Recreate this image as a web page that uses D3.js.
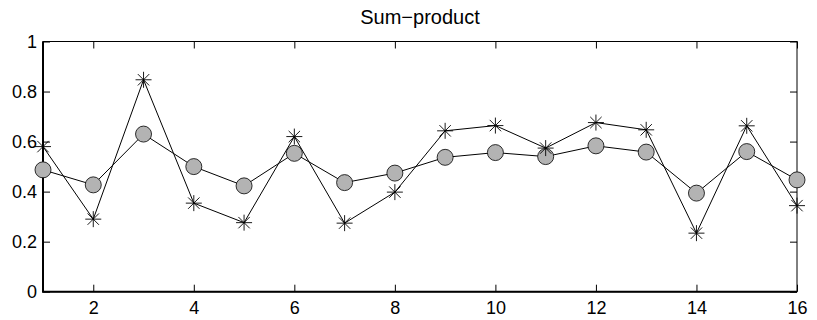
<!DOCTYPE html>
<html lang="en">
<head>
  <meta charset="UTF-8">
  <title>Sum-product</title>
  <script src="https://d3js.org/d3.v7.min.js"></script>
  <style>
    body { margin: 0; background: #fff; }
    svg { display: block; font-family: "Liberation Sans", Arial, sans-serif; }
    .tick text { font-size: 18px; fill: #000; }
    .title { font-size: 20px; text-anchor: middle; }
  </style>
</head>
<body>
  <svg width="817" height="320"></svg>
  <script>
    // data
    const nodes = d3.range(1, 17);
    const stars = [0.58, 0.29, 0.847, 0.354, 0.276, 0.62, 0.274, 0.398, 0.643, 0.664, 0.574, 0.676, 0.647, 0.234, 0.663, 0.344];
    const circles = [0.487, 0.427, 0.63, 0.5, 0.423, 0.553, 0.436, 0.474, 0.537, 0.556, 0.54, 0.583, 0.558, 0.394, 0.56, 0.447];
    const xTicks = [2, 4, 6, 8, 10, 12, 14, 16];
    const yTicks = [0, 0.2, 0.4, 0.6, 0.8, 1];

    const svg = d3.select("svg");
    const mLeft = 43, mRight = 797, mTop = 41.5, mBottom = 291.7;

    const x = d3.scaleLinear().domain([1, 16]).range([mLeft, mRight]);
    const y = d3.scaleLinear().domain([0, 1]).range([mBottom, mTop]);

    // axes, ticks pointing inwards like matlab
    svg.append("g")
      .attr("transform", `translate(0,${mBottom})`)
      .call(d3.axisBottom(x).tickValues(xTicks).tickSizeInner(-7).tickSizeOuter(0).tickPadding(10))
      .call(g => g.select(".domain").remove());
    svg.append("g")
      .attr("transform", `translate(0,${mTop})`)
      .call(d3.axisTop(x).tickValues(xTicks).tickSizeInner(-7).tickSizeOuter(0).tickFormat(""))
      .call(g => g.select(".domain").remove());
    svg.append("g")
      .attr("transform", `translate(${mLeft},0)`)
      .call(d3.axisLeft(y).tickValues(yTicks).tickSizeInner(-7).tickSizeOuter(0).tickPadding(6).tickFormat(d3.format("~g")))
      .call(g => g.select(".domain").remove());
    svg.append("g")
      .attr("transform", `translate(${mRight},0)`)
      .call(d3.axisRight(y).tickValues(yTicks).tickSizeInner(-7).tickSizeOuter(0).tickFormat(""))
      .call(g => g.select(".domain").remove());
    svg.selectAll(".tick line").attr("stroke", "#000");

    // box
    svg.append("rect")
      .attr("x", mLeft).attr("y", mTop)
      .attr("width", mRight - mLeft).attr("height", mBottom - mTop)
      .attr("fill", "none").attr("stroke", "#000").attr("stroke-width", 1);
    svg.append("path")
      .attr("d", `M${mLeft},${mTop}V${mBottom}H${mRight}`)
      .attr("fill", "none").attr("stroke", "#000").attr("stroke-width", 2);

    svg.append("text")
      .attr("class", "title")
      .attr("x", (mLeft + mRight) / 2)
      .attr("y", 24)
      .text("Sum\u2212product");

    const line = d3.line().x((d, i) => x(nodes[i])).y(d => y(d));

    // circle series
    svg.append("path")
      .datum(circles)
      .attr("d", line)
      .attr("fill", "none").attr("stroke", "#000").attr("stroke-width", 1);
    svg.selectAll(".dot")
      .data(circles)
      .enter()
      .append("circle")
      .attr("class", "dot")
      .attr("cx", (d, i) => x(nodes[i]))
      .attr("cy", d => y(d))
      .attr("r", 8)
      .attr("fill", "#b3b3b3")
      .attr("stroke", "#000")
      .attr("stroke-width", 0.8);

    // star series
    svg.append("path")
      .datum(stars)
      .attr("d", line)
      .attr("fill", "none").attr("stroke", "#000").attr("stroke-width", 1);
    const s = 8, t = 5.7;
    svg.selectAll(".star")
      .data(stars)
      .enter()
      .append("path")
      .attr("class", "star")
      .attr("transform", (d, i) => `translate(${x(nodes[i])},${y(d)})`)
      .attr("d", `M${-s},0H${s}M0,${-s}V${s}M${-t},${-t}L${t},${t}M${-t},${t}L${t},${-t}`)
      .attr("fill", "none").attr("stroke", "#000").attr("stroke-width", 0.9);
  </script>
</body>
</html>
